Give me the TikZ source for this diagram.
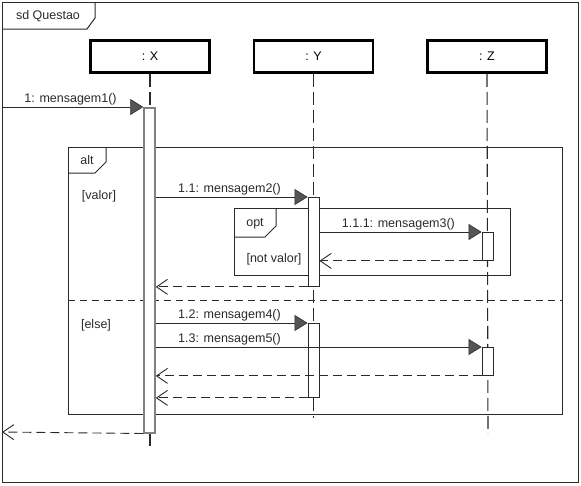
\documentclass[tikz,border=0pt]{standalone}
\usepackage{fontspec}
\setmainfont{Liberation Sans}
\usetikzlibrary{arrows.meta,positioning}
\definecolor{ink}{HTML}{2A2A2A}
\definecolor{tipfill}{HTML}{555555}
\tikzset{
  frame/.style={draw=ink,line width=1pt},
  head/.style={draw=black,line width=2.8pt,minimum width=119pt,minimum height=32pt,inner sep=0pt,font=\fontsize{12.5}{14}\selectfont},
  life/.style={draw=ink,line width=1.1pt,dash pattern=on 13pt off 5pt},
  act/.style={draw=ink,fill=white,line width=0.9pt,minimum width=11pt,inner sep=0pt,anchor=north},
  call/.style={draw=ink,line width=0.9pt,-{Triangle[length=13pt,width=16pt,fill=tipfill,line width=0.6pt]}},
  reply/.style={draw=ink,line width=0.9pt,dash pattern=on 9pt off 5pt,-{Straight Barb[length=11pt,width=15pt,line width=0.9pt]}},
  lbl/.style={font=\fontsize{12.5}{14}\selectfont,text=ink,anchor=south west,inner sep=1pt,xshift=21pt},
  txt/.style={font=\fontsize{12.5}{14}\selectfont,text=ink,inner sep=0pt}
}
\begin{document}
\begin{tikzpicture}[x=1pt,y=-1pt]
  \useasboundingbox (0,0) rectangle (581,485);
  \draw[frame] (2,2) rectangle (578,482);
  \draw[frame] (2,29) -- (87,29) -- (95,18) -- (95,2);
  \node[txt] (sd) at (48,16) {sd Questao};

  \draw[frame] (68,147) rectangle (562,414);
  \draw[frame] (68,173) -- (95,173) -- (106,162) -- (106,147);
  \node[txt] (alt) at (87,160) {alt};
  \node[txt] (valor) at (99,196) {[valor]};
  \draw[frame,dash pattern=on 7pt off 5pt] (68,300) -- (562,300);
  \node[txt] (else) at (96,325) {[else]};

  \draw[frame] (234,208) rectangle (510,275);
  \draw[frame] (234,237) -- (265,237) -- (276,226) -- (276,208);
  \node[txt] (opt) at (255,224) {opt};
  \node[txt] (notvalor) at (274,259) {[not valor]};

  \node[head] (X) at (150,56.5) {: X};
  \node[head] (Y) at (313.5,56.5) {: Y};
  \node[head] (Z) at (487,56.5) {: Z};
  \coordinate (endX) at (150,446);
  \coordinate (endY) at (313.5,418);
  \coordinate (endZ) at (488,434);
  \draw[life] (X.south) -- (endX);
  \draw[life] (Y.south) -- (endY);
  \draw[life] (Z.south) -- (endZ);

  \node[act,draw=gray,line width=1.5pt,minimum height=325pt] (aX) at (149.5,107) {};
  \node[act,minimum height=89pt] (aY1) at (313.5,197) {};
  \node[act,minimum height=28pt] (aZ1) at (487.5,232) {};
  \node[act,minimum height=74pt] (aY2) at (313.5,323) {};
  \node[act,minimum height=28pt] (aZ2) at (487.5,347) {};

  \coordinate (gateIn) at (2,107);
  \coordinate (gateOut) at (2,432);
  \draw[call] (gateIn) -- (aX.north west) node[lbl,at start] {1: mensagem1()};
  \draw[call] (aX.east |- aY1.north) -- (aY1.north west) node[lbl,at start] {1.1: mensagem2()};
  \draw[call] (aY1.east |- aZ1.north) -- (aZ1.north west) node[lbl,at start] {1.1.1: mensagem3()};
  \draw[reply] (aZ1.south west) -- (aY1.east |- aZ1.south);
  \draw[reply] (aY1.south west) -- (aX.east |- aY1.south);
  \draw[call] (aX.east |- aY2.north) -- (aY2.north west) node[lbl,at start] {1.2: mensagem4()};
  \draw[call] (aX.east |- aZ2.north) -- (aZ2.north west) node[lbl,at start] {1.3: mensagem5()};
  \draw[reply] (aZ2.south west) -- (aX.east |- aZ2.south);
  \draw[reply] (aY2.south west) -- (aX.east |- aY2.south);
  \draw[reply] (aX.south west) -- (gateOut);
\end{tikzpicture}
\end{document}
